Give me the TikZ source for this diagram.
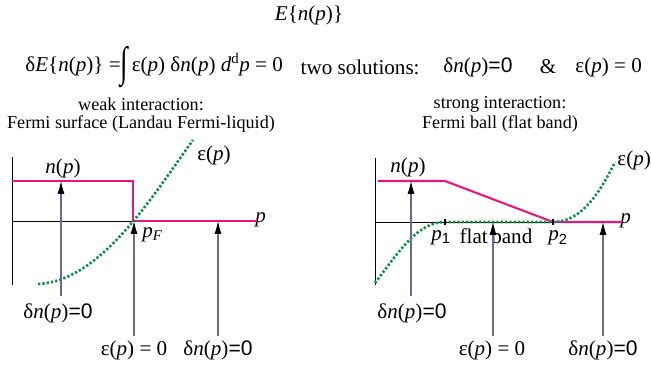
\documentclass[tikz,border=0pt]{standalone}
\usepackage{fontspec}
\usepackage{graphicx}
\setmainfont{Liberation Serif}
\setsansfont{Liberation Sans}
\usetikzlibrary{arrows.meta}

\definecolor{nline}{HTML}{E8177F}
\definecolor{eline}{HTML}{0E8C4A}
\definecolor{shaft}{HTML}{6C6896}

\newcommand{\ip}{\textit{p}}
\newcommand{\dnz}{δ\textit{n}(\ip){\sffamily=0}}
\newcommand{\epz}{ε(\ip) = 0}
\newcommand{\bigint}{\raisebox{-0.55ex}{\scalebox{1.3}[2.0]{∫}}}

\tikzset{
  axis/.style={line width=0.5pt},
  nfun/.style={nline,line width=1.8pt},
  efun/.style={eline,line width=2.2pt,dash pattern=on 2pt off 1.7pt},
  uparrow/.style={shaft,line width=0.9pt,-{Latex[color=black,length=11pt,width=6pt]}},
  tickmark/.style={line width=1.4pt},
  subhead/.style={font=\fontsize{15.5}{18}\selectfont},
}

\begin{document}
\begin{tikzpicture}[x=0.03cm,y=-0.03cm,every node/.style={font=\fontsize{18}{21}\selectfont,inner sep=1pt}]
    \useasboundingbox (0,0) rectangle (652,370);
    % header
    \node (title) at (309,15) {\textit{E}\{\textit{n}(\ip)\}};
    \node[anchor=west] (vareq) at (24,67) {δ\textit{E}\{\textit{n}(\ip)\} =\bigint\,ε(\ip) δ\textit{n}(\ip) \textit{d}\textsuperscript{d}\ip{} = 0};
    \node[anchor=east] (twosol) at (421,67) {two solutions:};
    \node[anchor=west] (solA) at (442,67) {\dnz};
    \node (amp) at (548,67) {\&};
    \node[anchor=west] (solB) at (574,67) {\epz};
    \node[subhead] (weakA) at (141,104) {weak interaction:};
    \node[subhead] (weakB) at (141,124) {Fermi surface (Landau Fermi-liquid)};
    \node[subhead] (strongA) at (500,104) {strong interaction:};
    \node[subhead] (strongB) at (500,124) {Fermi ball (flat band)};

    % left: Fermi surface
    \draw[axis] (12,157) -- (12,285);
    \draw[axis] (12,221) -- (257,221);
    \node[anchor=west] (pL) at (254,220) {\ip};
    \draw[nfun] (12,181) -- (133,181) -- (133,221) -- (257,221);
    \draw[efun] (38,284) .. controls (100,281) and (150,200) .. (193,140);
    \node (nL) at (63,168) {\textit{n}(\ip)};
    \node (eL) at (214,155) {ε(\ip)};
    \node[anchor=west] (pF) at (141,235) {\ip\textsubscript{\textit{F}}};
    \coordinate (tL1) at (61,181);
    \coordinate (tL2) at (134,221);
    \coordinate (tL3) at (218,221);
    \node (dnL1) at (58,313) {\dnz};
    \node (epL) at (134,350) {\epz};
    \node (dnL2) at (218,350) {\dnz};
    \draw[uparrow] (61,296) -- (tL1);
    \draw[uparrow] (epL.north -| tL2) ++(0,-3) -- (tL2);
    \draw[uparrow] (dnL2.north -| tL3) ++(0,-3) -- (tL3);

    % right: Fermi ball
    \draw[axis] (375,158) -- (375,285);
    \draw[axis] (375,222) -- (622,222);
    \node[anchor=west] (pR) at (619,221) {\ip};
    \draw[nfun] (378,181) -- (445,181) -- (553,222) -- (622,222);
    \draw[efun] (375,283) .. controls (400,250) and (418,222) .. (445,222) -- (553,222)
      .. controls (582,222) and (600,192) .. (615,162);
    \draw[tickmark] (445,219) -- (445,225);
    \draw[tickmark] (553,219) -- (553,225);
    \node (nR) at (408,167) {\textit{n}(\ip)};
    \node[anchor=west] (eR) at (616,160) {ε(\ip)};
    \node (p1) at (441,238) {\ip\textsubscript{\sffamily 1}};
    \node (p2) at (558,238) {\ip\textsubscript{\sffamily 2}};
    \node (flat) at (496,236) {flat\hspace{3pt}band};
    \coordinate (tR1) at (411,181);
    \coordinate (tR2) at (493,222);
    \coordinate (tR3) at (603,222);
    \node (dnR1) at (412,313) {\dnz};
    \node (epR) at (492,350) {\epz};
    \node (dnR2) at (603,350) {\dnz};
    \draw[uparrow] (411,296) -- (tR1);
    \draw[uparrow] (epR.north -| tR2) ++(0,-3) -- (tR2);
    \draw[uparrow] (dnR2.north -| tR3) ++(0,-3) -- (tR3);
  \end{tikzpicture}
\end{document}
